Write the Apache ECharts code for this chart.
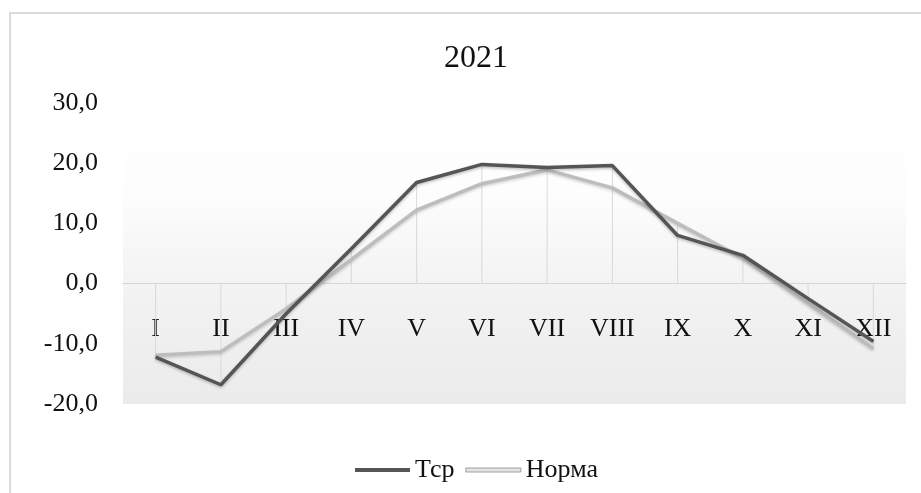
<!DOCTYPE html>
<html>
<head>
<meta charset="utf-8">
<script src="https://cdn.jsdelivr.net/npm/echarts@6/dist/echarts.min.js"></script>
<style>
  html, body { margin: 0; padding: 0; background: #ffffff; }
  #chart { width: 921px; height: 493px; }
</style>
</head>
<body>
<div id="chart"></div>
<script>
// Months (Roman numerals) and monthly mean air temperature, °C
var months = ['I', 'II', 'III', 'IV', 'V', 'VI', 'VII', 'VIII', 'IX', 'X', 'XI', 'XII'];
var tsr = [-12.2, -16.8, -5.0, 5.8, 16.8, 19.8, 19.3, 19.6, 8.0, 4.7, -2.5, -9.6];
var norma = [-11.9, -11.3, -4.2, 4.0, 12.2, 16.6, 18.9, 15.9, 10.0, 4.2, -3.3, -10.8];
var titleText = '2021';
var yTicks = { min: -20, max: 30, step: 10 };

// Drop lines: from the zero axis to the value farther from it in each month
var dropLines = months.map(function (m, i) {
  return Math.abs(tsr[i]) >= Math.abs(norma[i]) ? tsr[i] : norma[i];
});

var serif = '"Liberation Serif", "Times New Roman", serif';

// Plot box
var gridTop = 103, gridBottom = 89, chartHeight = 493;
var plotHeight = chartHeight - gridTop - gridBottom;
// Lift the category axis (line and labels) up to the zero level
var zeroLift = (0 - yTicks.min) / (yTicks.max - yTicks.min) * plotHeight;

var chart = echarts.init(document.getElementById('chart'), null, { renderer: 'canvas' });

chart.setOption({
  animation: false,
  backgroundColor: '#ffffff',
  title: {
    text: titleText,
    left: 471,
    top: 38,
    textAlign: 'center',
    textStyle: { fontFamily: serif, fontSize: 32, fontWeight: 'normal', color: '#111111' }
  },
  graphic: [{
    type: 'rect',
    shape: { x: 10, y: 13, width: 940, height: 520 },
    style: { fill: 'none', stroke: '#dadada', lineWidth: 2 },
    silent: true,
    z: -10
  }],
  grid: {
    left: 123,
    right: 15,
    top: gridTop,
    bottom: gridBottom,
    show: true,
    borderWidth: 0,
    backgroundColor: new echarts.graphic.LinearGradient(0, 0, 0, 1, [
      { offset: 0, color: '#ffffff' },
      { offset: 0.3, color: '#fdfdfd' },
      { offset: 0.6, color: '#f3f3f3' },
      { offset: 1, color: '#ebebeb' }
    ])
  },
  legend: {
    data: [
      { name: 'Тср', icon: 'rect', itemStyle: { color: '#555555' } },
      { name: 'Норма', icon: 'rect', itemStyle: { color: '#e4e4e4', borderColor: '#8c8c8c', borderWidth: 0.8 } }
    ],
    left: 350,
    top: 452,
    itemWidth: 55,
    itemHeight: 4,
    itemGap: 11,
    textStyle: { fontFamily: serif, fontSize: 26, color: '#111111' }
  },
  xAxis: {
    type: 'category',
    data: months,
    boundaryGap: true,
    offset: -zeroLift,
    axisLine: { onZero: false, lineStyle: { color: '#d6d6d6', width: 1 } },
    axisTick: { show: false },
    axisLabel: { margin: 33, fontFamily: serif, fontSize: 26, color: '#111111' },
    splitLine: { show: false }
  },
  yAxis: {
    type: 'value',
    min: yTicks.min,
    max: yTicks.max,
    interval: yTicks.step,
    axisLine: { show: false },
    axisTick: { show: false },
    splitLine: { show: false },
    axisLabel: {
      margin: 25,
      fontFamily: serif,
      fontSize: 26,
      color: '#111111',
      formatter: function (v) { return v.toFixed(1).replace('.', ','); }
    }
  },
  series: [
    {
      name: 'drop',
      type: 'bar',
      data: dropLines,
      barWidth: 1,
      itemStyle: { color: '#d9d9d9' },
      silent: true,
      z: 1
    },
    {
      name: 'Тср',
      type: 'line',
      data: tsr,
      symbol: 'none',
      lineStyle: {
        color: '#555555', width: 3.5,
        shadowColor: 'rgba(0,0,0,0.25)', shadowBlur: 3, shadowOffsetY: 1.5
      },
      itemStyle: { color: '#555555' },
      z: 4
    },
    {
      name: 'Норма',
      type: 'line',
      data: norma,
      symbol: 'none',
      lineStyle: {
        color: '#bdbdbd', width: 3.5,
        shadowColor: 'rgba(0,0,0,0.18)', shadowBlur: 3, shadowOffsetY: 1.5
      },
      itemStyle: { color: '#bdbdbd' },
      z: 3
    }
  ]
});
</script>
</body>
</html>
